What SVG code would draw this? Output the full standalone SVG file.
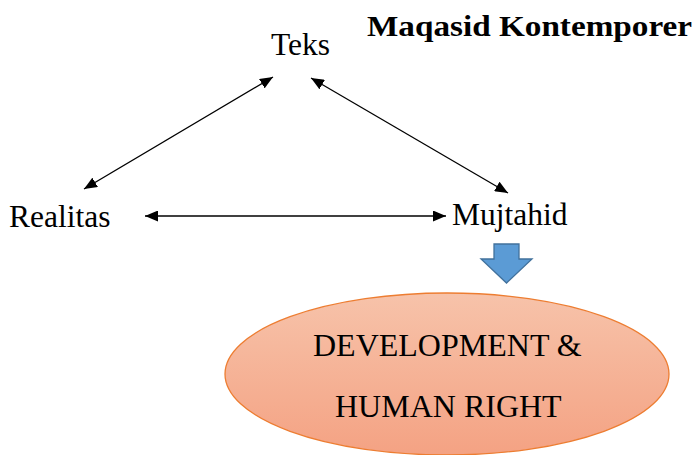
<svg xmlns="http://www.w3.org/2000/svg" width="699" height="455" viewBox="0 0 699 455">
  <style>
    .lbl { font-family: "Liberation Serif", "Times New Roman", serif; font-size: 31.5px; fill: #000; }
    .big { font-size: 32px; }
    .title { font-family: "Liberation Serif", "DejaVu Serif", serif; font-size: 29px; font-weight: bold; fill: #000; }
    .conn { stroke: #000; stroke-width: 1.3; fill: none; marker-start: url(#head); marker-end: url(#head); }
  </style>
  <defs>
    <marker id="head" viewBox="0 0 13 11" refX="13" refY="5.5" markerWidth="13" markerHeight="11" markerUnits="userSpaceOnUse" orient="auto-start-reverse">
      <path d="M0,0 L13,5.5 L0,11 Z" fill="#000"/>
    </marker>
    <linearGradient id="ovalFill" x1="0" y1="0" x2="0" y2="1">
      <stop offset="0" stop-color="#f7c3aa"/>
      <stop offset="1" stop-color="#f4a283"/>
    </linearGradient>
  </defs>

  <text class="title" x="367" y="36" textLength="325" lengthAdjust="spacingAndGlyphs">Maqasid Kontemporer</text>

  <g id="connectors">
    <line class="conn" x1="273" y1="77" x2="84" y2="189"/>
    <line class="conn" x1="311" y1="78" x2="508" y2="193"/>
    <line class="conn" x1="145" y1="216" x2="446" y2="216"/>
  </g>

  <g id="teks">
    <text class="lbl" x="271" y="55">Teks</text>
  </g>
  <g id="realitas">
    <text class="lbl" x="9" y="227">Realitas</text>
  </g>
  <g id="mujtahid">
    <text class="lbl" x="452" y="225">Mujtahid</text>
  </g>

  <g id="down-arrow">
    <path d="M494,244 L519,244 L519,259 L532,259 L506.5,283 L481,259 L494,259 Z" fill="#5b9bd5" stroke="#41719c" stroke-width="1.3"/>
  </g>

  <g id="result">
    <ellipse cx="447" cy="374" rx="222" ry="81" fill="url(#ovalFill)" stroke="#ed7d31" stroke-width="1.3"/>
    <text class="lbl big" x="313" y="356">DEVELOPMENT &amp;</text>
    <text class="lbl big" x="335" y="417">HUMAN RIGHT</text>
  </g>
</svg>
